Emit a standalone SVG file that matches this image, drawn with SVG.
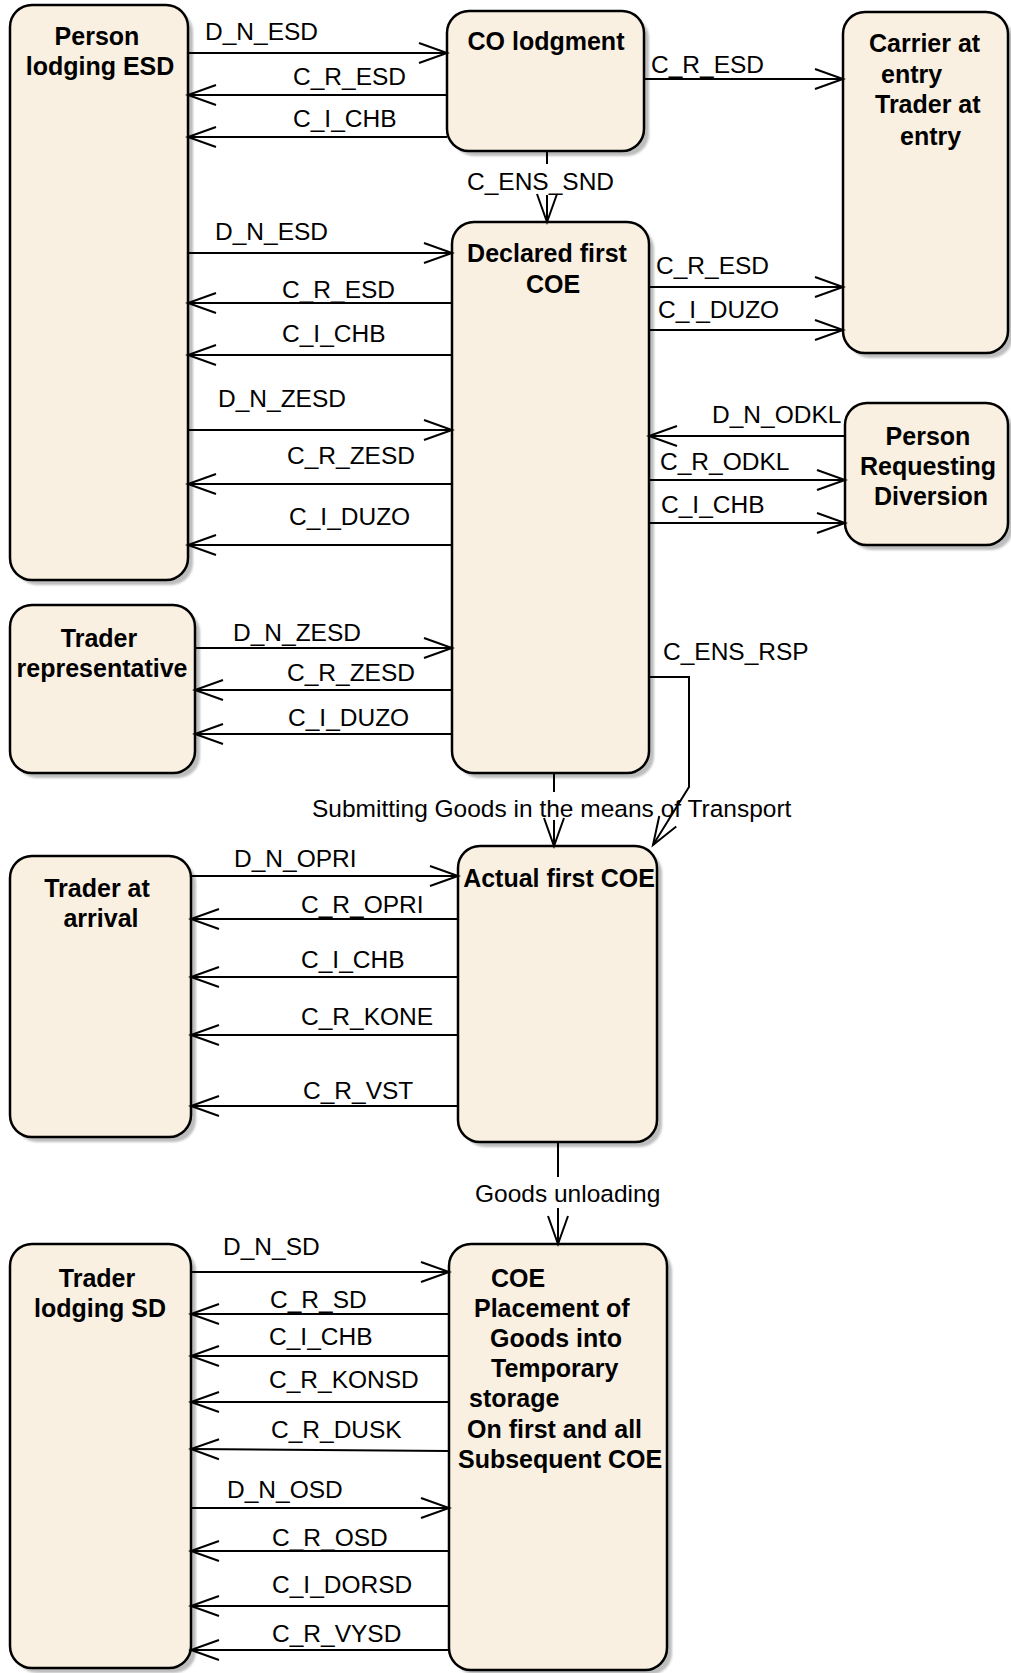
<svg xmlns="http://www.w3.org/2000/svg" width="1011" height="1673" viewBox="0 0 1011 1673">
  <defs>
    <style>
      .box { fill: #FAF0E1; stroke: #000; stroke-width: 2.5; }
      .shadow { fill: #BDBDBD; filter: url(#soft); }
      .title { font-family: "Liberation Sans", Arial, sans-serif; font-size: 25px; font-weight: bold; fill: #000; }
      .mid { text-anchor: middle; }
      .lbl { font-family: "Liberation Sans", Arial, sans-serif; font-size: 24.5px; fill: #000; }
      .flow { fill: none; stroke: #000; stroke-width: 2; }
      .arrow { fill: none; stroke: #000; stroke-width: 2; marker-end: url(#open); }
    </style>
    <filter id="soft" x="-5%" y="-5%" width="110%" height="110%">
      <feGaussianBlur stdDeviation="1"/>
    </filter>
    <marker id="open" markerUnits="userSpaceOnUse" markerWidth="40" markerHeight="30" viewBox="-32 -15 40 30" refX="0" refY="0" orient="auto" overflow="visible">
      <path d="M-28,-10 L0,0 L-28,10" fill="none" stroke="#000" stroke-width="2"/>
    </marker>
  </defs>

  <rect width="1011" height="1673" fill="#fff"/>

  <!-- nodes -->
  <g id="person-lodging-esd">
    <rect class="shadow" x="15" y="10" width="178" height="575" rx="22"/>
    <rect class="box" x="10" y="5" width="178" height="575" rx="22"/>
    <text class="title mid" x="97" y="45">Person</text>
    <text class="title mid" x="100" y="75">lodging ESD</text>
  </g>

  <g id="co-lodgment">
    <rect class="shadow" x="452" y="16" width="197" height="140" rx="22"/>
    <rect class="box" x="447" y="11" width="197" height="140" rx="22"/>
    <text class="title mid" x="546" y="50">CO lodgment</text>
  </g>

  <g id="carrier-at-entry">
    <rect class="shadow" x="848" y="17" width="165" height="341" rx="22"/>
    <rect class="box" x="843" y="12" width="165" height="341" rx="22"/>
    <text class="title" x="869" y="52">Carrier at</text>
    <text class="title" x="881" y="83">entry</text>
    <text class="title" x="875" y="113">Trader at</text>
    <text class="title" x="900" y="145">entry</text>
  </g>

  <g id="declared-first-coe">
    <rect class="shadow" x="457" y="227" width="197" height="551" rx="22"/>
    <rect class="box" x="452" y="222" width="197" height="551" rx="22"/>
    <text class="title mid" x="547" y="262">Declared first</text>
    <text class="title mid" x="553" y="293">COE</text>
  </g>

  <g id="person-requesting-diversion">
    <rect class="shadow" x="850" y="408" width="163" height="142" rx="22"/>
    <rect class="box" x="845" y="403" width="163" height="142" rx="22"/>
    <text class="title mid" x="928" y="445">Person</text>
    <text class="title mid" x="928" y="475">Requesting</text>
    <text class="title mid" x="931" y="505">Diversion</text>
  </g>

  <g id="trader-representative">
    <rect class="shadow" x="15" y="610" width="185" height="168" rx="22"/>
    <rect class="box" x="10" y="605" width="185" height="168" rx="22"/>
    <text class="title mid" x="99" y="647">Trader</text>
    <text class="title mid" x="102" y="677">representative</text>
  </g>

  <g id="actual-first-coe">
    <rect class="shadow" x="463" y="851" width="199" height="296" rx="22"/>
    <rect class="box" x="458" y="846" width="199" height="296" rx="22"/>
    <text class="title mid" x="559" y="887">Actual first COE</text>
  </g>

  <g id="trader-at-arrival">
    <rect class="shadow" x="15" y="861" width="181" height="281" rx="22"/>
    <rect class="box" x="10" y="856" width="181" height="281" rx="22"/>
    <text class="title mid" x="97" y="897">Trader at</text>
    <text class="title mid" x="101" y="927">arrival</text>
  </g>

  <g id="trader-lodging-sd">
    <rect class="shadow" x="15" y="1249" width="181" height="424" rx="22"/>
    <rect class="box" x="10" y="1244" width="181" height="424" rx="22"/>
    <text class="title mid" x="97" y="1287">Trader</text>
    <text class="title mid" x="100" y="1317">lodging SD</text>
  </g>

  <g id="coe-temporary-storage">
    <rect class="shadow" x="454" y="1249" width="218" height="426" rx="22"/>
    <rect class="box" x="449" y="1244" width="218" height="426" rx="22"/>
    <text class="title" x="491" y="1287">COE</text>
    <text class="title" x="474" y="1317">Placement of</text>
    <text class="title" x="490" y="1347">Goods into</text>
    <text class="title" x="491" y="1377">Temporary</text>
    <text class="title" x="469" y="1407">storage</text>
    <text class="title" x="467" y="1438">On first and all</text>
    <text class="title" x="458" y="1468">Subsequent COE</text>
  </g>

  <!-- connectors -->
  <g id="connectors">
    <!-- Person lodging ESD / CO lodgment -->
    <line class="arrow" x1="188" y1="53" x2="447" y2="53"/>
    <text class="lbl" x="205" y="40">D_N_ESD</text>
    <line class="arrow" x1="447" y1="95" x2="188" y2="95"/>
    <text class="lbl" x="293" y="85">C_R_ESD</text>
    <line class="arrow" x1="447" y1="137" x2="188" y2="137"/>
    <text class="lbl" x="293" y="127">C_I_CHB</text>

    <!-- CO lodgment / Carrier -->
    <line class="arrow" x1="644" y1="79" x2="843" y2="79"/>
    <text class="lbl" x="651" y="73">C_R_ESD</text>

    <!-- CO lodgment / Declared first COE -->
    <line class="flow" x1="547" y1="151" x2="547" y2="164"/>
    <line class="arrow" x1="547" y1="195" x2="547" y2="222"/>
    <text class="lbl" x="467" y="190">C_ENS_SND</text>

    <!-- Person lodging ESD / Declared first COE -->
    <line class="arrow" x1="188" y1="253" x2="452" y2="253"/>
    <text class="lbl" x="215" y="240">D_N_ESD</text>
    <line class="arrow" x1="452" y1="303" x2="188" y2="303"/>
    <text class="lbl" x="282" y="298">C_R_ESD</text>
    <line class="arrow" x1="452" y1="355" x2="188" y2="355"/>
    <text class="lbl" x="282" y="342">C_I_CHB</text>
    <line class="arrow" x1="188" y1="430" x2="452" y2="430"/>
    <text class="lbl" x="218" y="407">D_N_ZESD</text>
    <line class="arrow" x1="452" y1="484" x2="188" y2="484"/>
    <text class="lbl" x="287" y="464">C_R_ZESD</text>
    <line class="arrow" x1="452" y1="545" x2="188" y2="545"/>
    <text class="lbl" x="289" y="525">C_I_DUZO</text>

    <!-- Declared first COE / Carrier -->
    <line class="arrow" x1="649" y1="287" x2="843" y2="287"/>
    <text class="lbl" x="656" y="274">C_R_ESD</text>
    <line class="arrow" x1="649" y1="330" x2="843" y2="330"/>
    <text class="lbl" x="658" y="318">C_I_DUZO</text>

    <!-- Person Requesting Diversion / Declared first COE -->
    <line class="arrow" x1="845" y1="436" x2="649" y2="436"/>
    <text class="lbl" x="712" y="423">D_N_ODKL</text>
    <line class="arrow" x1="649" y1="480" x2="845" y2="480"/>
    <text class="lbl" x="660" y="470">C_R_ODKL</text>
    <line class="arrow" x1="649" y1="523" x2="845" y2="523"/>
    <text class="lbl" x="661" y="513">C_I_CHB</text>

    <!-- Trader representative / Declared first COE -->
    <line class="arrow" x1="195" y1="648" x2="452" y2="648"/>
    <text class="lbl" x="233" y="641">D_N_ZESD</text>
    <line class="arrow" x1="452" y1="690" x2="195" y2="690"/>
    <text class="lbl" x="287" y="681">C_R_ZESD</text>
    <line class="arrow" x1="452" y1="734" x2="195" y2="734"/>
    <text class="lbl" x="288" y="726">C_I_DUZO</text>

    <!-- Declared first COE / Actual first COE -->
    <line class="flow" x1="554" y1="773" x2="554" y2="792"/>
    <line class="arrow" x1="554" y1="820" x2="554" y2="846"/>
    <text class="lbl" x="312" y="817">Submitting Goods in the means of Transport</text>
    <polyline class="arrow" points="649,677 689,677 689,787 653,845"/>
    <text class="lbl" x="663" y="660">C_ENS_RSP</text>

    <!-- Trader at arrival / Actual first COE -->
    <line class="arrow" x1="191" y1="876" x2="458" y2="876"/>
    <text class="lbl" x="234" y="867">D_N_OPRI</text>
    <line class="arrow" x1="458" y1="919" x2="191" y2="919"/>
    <text class="lbl" x="301" y="913">C_R_OPRI</text>
    <line class="arrow" x1="458" y1="977" x2="191" y2="977"/>
    <text class="lbl" x="301" y="968">C_I_CHB</text>
    <line class="arrow" x1="458" y1="1035" x2="191" y2="1035"/>
    <text class="lbl" x="301" y="1025">C_R_KONE</text>
    <line class="arrow" x1="458" y1="1106" x2="191" y2="1106"/>
    <text class="lbl" x="303" y="1099">C_R_VST</text>

    <!-- Actual first COE / COE placement -->
    <line class="flow" x1="558" y1="1142" x2="558" y2="1177"/>
    <line class="arrow" x1="558" y1="1208" x2="558" y2="1244"/>
    <text class="lbl" x="475" y="1202">Goods unloading</text>

    <!-- Trader lodging SD / COE placement -->
    <line class="arrow" x1="191" y1="1272" x2="449" y2="1272"/>
    <text class="lbl" x="223" y="1255">D_N_SD</text>
    <line class="arrow" x1="449" y1="1314" x2="191" y2="1314"/>
    <text class="lbl" x="270" y="1308">C_R_SD</text>
    <line class="arrow" x1="449" y1="1356" x2="191" y2="1356"/>
    <text class="lbl" x="269" y="1345">C_I_CHB</text>
    <line class="arrow" x1="449" y1="1402" x2="191" y2="1402"/>
    <text class="lbl" x="269" y="1388">C_R_KONSD</text>
    <line class="arrow" x1="449" y1="1451" x2="191" y2="1449"/>
    <text class="lbl" x="271" y="1438">C_R_DUSK</text>
    <line class="arrow" x1="191" y1="1508" x2="449" y2="1508"/>
    <text class="lbl" x="227" y="1498">D_N_OSD</text>
    <line class="arrow" x1="449" y1="1551" x2="191" y2="1551"/>
    <text class="lbl" x="272" y="1546">C_R_OSD</text>
    <line class="arrow" x1="449" y1="1606" x2="191" y2="1606"/>
    <text class="lbl" x="272" y="1593">C_I_DORSD</text>
    <line class="arrow" x1="449" y1="1650" x2="191" y2="1650"/>
    <text class="lbl" x="272" y="1642">C_R_VYSD</text>
  </g>
</svg>
